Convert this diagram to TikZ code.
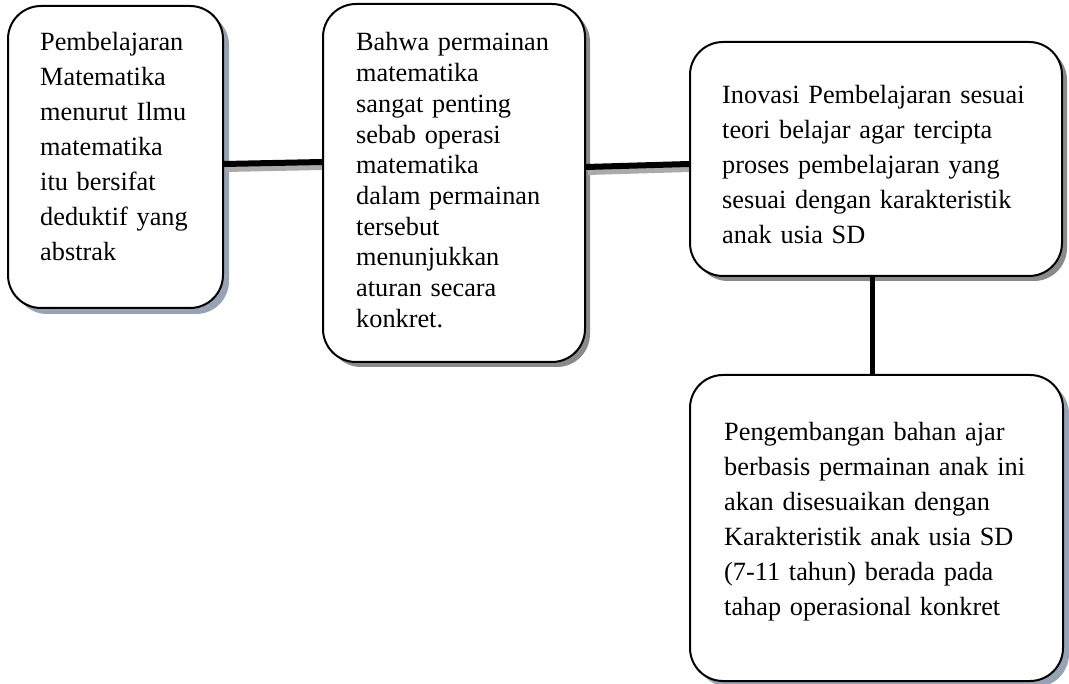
\documentclass[tikz,border=0pt]{standalone}
\usepackage{fontspec}
\setmainfont{Liberation Serif}
\usetikzlibrary{shadows,calc}
\definecolor{shblue}{RGB}{150,163,180}
\definecolor{shgray}{RGB}{138,138,138}
\definecolor{lnshadow}{RGB}{170,170,170}
\tikzset{
  boxshape/.style={draw=black, line width=2pt, fill=white, rounded corners=33pt,
    rectangle, inner sep=0pt},
  blueshadow/.style={drop shadow={shadow xshift=6pt, shadow yshift=-6pt, fill=shblue, opacity=1}},
  grayshadow/.style={drop shadow={shadow xshift=5pt, shadow yshift=-5pt, fill=shgray, opacity=1}},
  boxtext/.style={anchor=base west, inner sep=0pt, align=left, text width=360pt,
    font=\fontsize{26.3}{35}\selectfont},
  tighttext/.style={boxtext, font=\fontsize{26.3}{30.7}\selectfont},
  connector/.style={line width=6pt, black},
  connshadow/.style={line width=6pt, lnshadow},
}
\begin{document}
\begin{tikzpicture}[x=1pt, y=-1pt]
\useasboundingbox (0,0) rectangle (1069,684);
\fill[white] (0,0) rectangle (1069,684);

% boxes
\node[boxshape, blueshadow, minimum width=215pt, minimum height=302pt] (b1) at (115.5,157) {};
\node[boxshape, grayshadow, minimum width=262pt, minimum height=358pt] (b2) at (454,183) {};
\node[boxshape, grayshadow, minimum width=372pt, minimum height=234pt] (b3) at (876,159) {};
\node[boxshape, blueshadow, minimum width=373pt, minimum height=306pt] (b4) at (876.5,528) {};

% connector shadows
\draw[connshadow] ([shift={(2pt,-5pt)}]$(b1.east)+(0,7)$) -- ([shift={(0pt,-5pt)}]$(b2.west)+(0,-21)$);
\draw[connshadow] ([shift={(2pt,-5pt)}]$(b2.east)+(0,-16)$) -- ([shift={(0pt,-5pt)}]$(b3.west)+(0,5)$);

% connectors
\draw[connector] ($(b1.east)+(0,7)$) -- ($(b2.west)+(0,-21)$);
\draw[connector] ($(b2.east)+(0,-16)$) -- ($(b3.west)+(0,5)$);
\draw[connector, line width=5pt] ($(b3.south)+(-4,0)$) -- ($(b4.north)+(-4.5,0)$);

% texts
\node[boxtext] (t1) at ($(b1.north west)+(33,46)$) {Pembelajaran\\Matematika\\menurut Ilmu\\matematika\\itu bersifat\\deduktif yang\\abstrak};
\node[tighttext] (t2) at ($(b2.north west)+(34,48)$) {Bahwa permainan\\matematika\\sangat penting\\sebab operasi\\matematika\\dalam permainan\\tersebut\\menunjukkan\\aturan secara\\konkret.};
\node[boxtext] (t3) at ($(b3.north west)+(33,63)$) {Inovasi Pembelajaran sesuai\\teori belajar agar tercipta\\proses pembelajaran yang\\sesuai dengan karakteristik\\anak usia SD};
\node[boxtext] (t4) at ($(b4.north west)+(35,67)$) {Pengembangan bahan ajar\\berbasis permainan anak ini\\akan disesuaikan dengan\\Karakteristik anak usia SD\\(7-11 tahun) berada pada\\tahap operasional konkret};
\end{tikzpicture}
\end{document}
